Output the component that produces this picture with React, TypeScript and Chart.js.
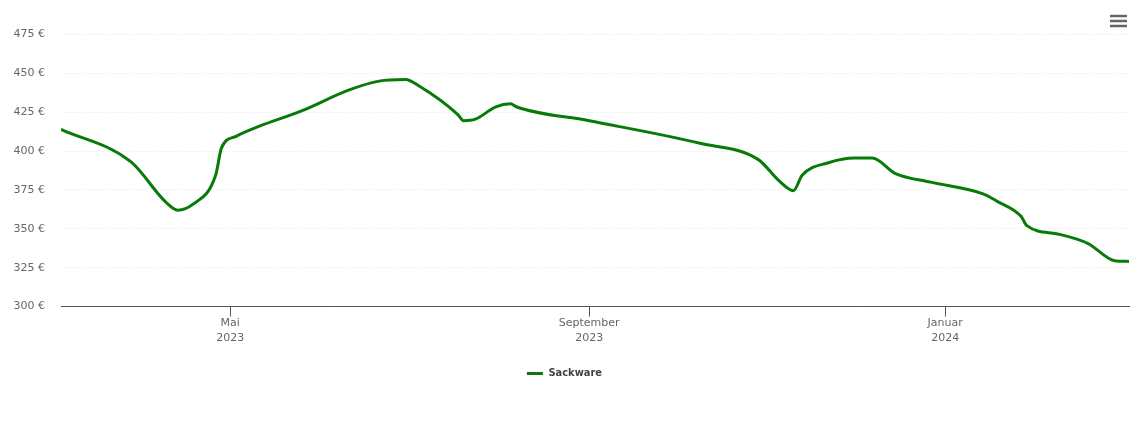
import React, { useEffect, useRef } from "react";
import { Chart, registerables } from "chart.js";

Chart.register(...registerables);

const dates: string[] = [
  "2023-03-04", "2023-03-28", "2023-04-09", "2023-04-13", "2023-04-18", "2023-04-26",
  "2023-04-28", "2023-05-03", "2023-05-11", "2023-05-25", "2023-06-11", "2023-06-21", "2023-06-30",
  "2023-07-05", "2023-07-18", "2023-07-20", "2023-07-24", "2023-07-31", "2023-08-05",
  "2023-08-07", "2023-09-01", "2023-10-09", "2023-10-29", "2023-11-05", "2023-11-10",
  "2023-11-13", "2023-11-22", "2023-12-01", "2023-12-07", "2023-12-15", "2023-12-27",
  "2024-01-14", "2024-01-19", "2024-01-27", "2024-01-29", "2024-02-09", "2024-02-19",
  "2024-02-28", "2024-03-04",
];
const sackware: number[] = [
  414, 393, 367, 362, 365.5, 384.5,
  402, 409.5, 416, 425.5, 439.5, 445, 446,
  441.5, 423.5, 419.5, 420.5, 428.5, 430.5,
  428.5, 419.5, 405, 394.5, 381, 374.5,
  384.5, 392.5, 395.5, 395.5, 385.5, 380,
  372.5, 367.5, 358, 352, 346.5, 340.5,
  329.5, 329,
];
const tickDates: string[] = ["2023-05-01", "2023-09-01", "2024-01-01"];
const tickLabels: string[][] = [["Mai", "2023"], ["September", "2023"], ["Januar", "2024"]];
const yTicks: number[] = [300, 325, 350, 375, 400, 425, 450, 475];
const seriesName = "Sackware";
const xStart = "2023-03-04";
const xEnd = "2024-03-04";

const FONT = "'DejaVu Sans', Verdana, sans-serif";

export default function App() {
  const ref = useRef<HTMLCanvasElement | null>(null);
  useEffect(() => {
    if (!ref.current) return;
    const tickVals = tickDates.map((d) => Date.parse(d));
    const menuPlugin = {
      id: "menu",
      afterDraw(chart: any) {
        const ctx = chart.ctx;
        ctx.save();
        ctx.strokeStyle = "#666666";
        ctx.lineWidth = 2.5;
        ctx.lineCap = "butt";
        [16, 21, 26].forEach((y) => {
          ctx.beginPath();
          ctx.moveTo(1110, y);
          ctx.lineTo(1127, y);
          ctx.stroke();
        });
        ctx.restore();
      },
    };
    const chart = new Chart(ref.current, {
      type: "line",
      data: {
        datasets: [
          {
            label: seriesName,
            data: dates.map((d, i) => ({ x: Date.parse(d), y: sackware[i] })),
            borderColor: "#087a08",
            backgroundColor: "#087a08",
            borderWidth: 3,
            pointRadius: 0,
            pointStyle: "line",
            cubicInterpolationMode: "monotone",
            fill: false,
          },
        ],
      },
      options: {
        animation: false,
        responsive: true,
        maintainAspectRatio: false,
        layout: { padding: { left: 0, right: 11, top: 34.5, bottom: 45 } },
        plugins: {
          tooltip: { enabled: false },
          legend: {
            position: "bottom",
            labels: {
              usePointStyle: true,
              pointStyleWidth: 16,
              padding: 10,
              color: "#444444",
              font: { family: "'DejaVu Sans Condensed', 'DejaVu Sans', sans-serif", size: 11, weight: "bold" },
            },
          },
        },
        scales: {
          x: {
            type: "linear",
            min: Date.parse(xStart),
            max: Date.parse(xEnd),
            afterBuildTicks: (s: any) => {
              s.ticks = tickVals.map((v) => ({ value: v }));
            },
            afterFit: (s: any) => {
              s.height = 51.5;
            },
            ticks: {
              autoSkip: false,
              maxRotation: 0,
              padding: -0.5,
              color: "#666666",
              font: { family: FONT, size: 11, lineHeight: 1.35 },
              callback: (v: any) => {
                const i = tickVals.indexOf(Number(v));
                return i >= 0 ? tickLabels[i] : "";
              },
            },
            grid: {
              drawOnChartArea: false,
              drawTicks: true,
              tickLength: 10,
              color: "#555555",
            },
            border: { display: true, color: "#555555", width: 1 },
          },
          y: {
            min: 300,
            max: 475,
            afterBuildTicks: (s: any) => {
              s.ticks = yTicks.map((v) => ({ value: v }));
            },
            afterFit: (s: any) => {
              s.width = 61;
            },
            ticks: {
              padding: 16,
              color: "#666666",
              font: { family: FONT, size: 11 },
              callback: (v: any) => `${v} €`,
            },
            grid: {
              drawTicks: false,
              color: "#e6e6e6",
              lineWidth: 1,
            },
            border: { display: false, dash: [1, 2] },
          },
        },
      },
      plugins: [menuPlugin],
    } as any);
    return () => chart.destroy();
  }, []);
  return (
    <div style={{ position: "fixed", left: 0, top: 0, width: 1140, height: 434, background: "#fff" }}>
      <canvas ref={ref} />
    </div>
  );
}
